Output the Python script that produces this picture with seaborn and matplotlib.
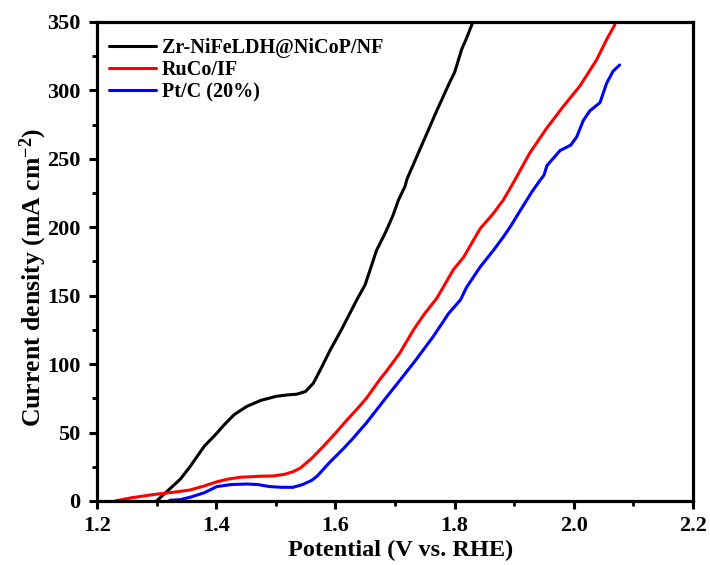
import numpy as np
import pandas as pd
import matplotlib
matplotlib.use("Agg")
import matplotlib.pyplot as plt
import seaborn as sns
from matplotlib.ticker import MultipleLocator

# ---- data ----
labels = ["Zr-NiFeLDH@NiCoP/NF", "RuCo/IF", "Pt/C (20%)"]
colors = ["#000000", "#ff0000", "#0000ff"]

black_v = [1.300, 1.320, 1.340, 1.356, 1.380, 1.400, 1.412, 1.430, 1.451, 1.475, 1.501,
           1.520, 1.535, 1.550, 1.563, 1.575, 1.591, 1.610, 1.636, 1.650, 1.669, 1.685,
           1.697, 1.706, 1.717, 1.720, 1.735, 1.753, 1.770, 1.792, 1.800, 1.812, 1.820,
           1.830, 1.840]
black_j = [0, 8, 16, 25, 40, 49, 55, 63, 69, 73.5, 76.5,
           77.5, 78, 80, 86, 96, 110, 125, 147, 158, 183, 197,
           209, 220, 230, 235, 250, 268, 285, 306, 313, 330, 338,
           349, 358]

red_v = [1.230, 1.260, 1.300, 1.330, 1.356, 1.380, 1.401, 1.420, 1.440, 1.470, 1.496,
         1.515, 1.529, 1.541, 1.560, 1.580, 1.597, 1.615, 1.636, 1.652, 1.675, 1.686,
         1.708, 1.731, 1.750, 1.770, 1.798, 1.815, 1.843, 1.865, 1.882, 1.898, 1.926,
         1.954, 1.982, 2.010, 2.038, 2.055, 2.069]
red_j = [0, 2.5, 5, 6.5, 8, 11, 14, 16, 17.3, 18, 18.3,
         19.5, 21.4, 24, 31, 40, 48, 57, 67, 75, 89, 95,
         108, 125, 137, 148, 169, 178, 199, 210, 220, 232, 254,
         272, 288, 303, 322, 337, 348]

blue_v = [1.322, 1.340, 1.356, 1.380, 1.401, 1.425, 1.451, 1.470, 1.490, 1.510, 1.529,
          1.545, 1.560, 1.569, 1.590, 1.613, 1.630, 1.652, 1.686, 1.708, 1.735, 1.764,
          1.790, 1.810, 1.820, 1.843, 1.865, 1.882, 1.893, 1.910, 1.930, 1.943, 1.950,
          1.955, 1.977, 1.995, 2.005, 2.016, 2.027, 2.044, 2.055, 2.066, 2.077]
blue_j = [0.5, 1, 2.7, 6, 10.5, 12, 12.4, 12, 10.5, 10, 10,
          12, 15, 18, 28, 38, 46, 57, 76, 88, 103, 120,
          137, 147, 156, 171, 183, 193, 200, 212, 226, 234, 238,
          245, 256, 260, 266, 278, 285, 291, 305, 314, 318.5]

df = pd.concat([
    pd.DataFrame({"V": black_v, "J": black_j, "s": labels[0]}),
    pd.DataFrame({"V": red_v, "J": red_j, "s": labels[1]}),
    pd.DataFrame({"V": blue_v, "J": blue_j, "s": labels[2]}),
], ignore_index=True)

sns.set_style("ticks", {"axes.edgecolor": "black", "text.color": "black",
                        "xtick.color": "black", "ytick.color": "black",
                        "axes.labelcolor": "black"})
plt.rcParams["font.family"] = ["Liberation Serif", "DejaVu Serif"]
plt.rcParams["font.weight"] = "bold"
plt.rcParams["mathtext.fontset"] = "custom"
plt.rcParams["mathtext.rm"] = "Liberation Serif:bold"
plt.rcParams["mathtext.bf"] = "Liberation Serif:bold"
plt.rcParams["mathtext.default"] = "bf"

fig = plt.figure(figsize=(7.1, 5.65), dpi=100)
ax = fig.add_axes([0.1366, 0.1133, 0.8394, 0.848])

sns.lineplot(data=df, x="V", y="J", hue="s", palette=dict(zip(labels, colors)),
             sort=False, estimator=None, linewidth=2.2, ax=ax)

ax.set_xlim(1.2, 2.2)
ax.set_ylim(0, 350)
ax.xaxis.set_major_locator(MultipleLocator(0.2))
ax.xaxis.set_minor_locator(MultipleLocator(0.1))
ax.yaxis.set_major_locator(MultipleLocator(50))
ax.yaxis.set_minor_locator(MultipleLocator(25))
ax.xaxis.set_major_formatter(matplotlib.ticker.FormatStrFormatter("%.1f"))

for sp in ax.spines.values():
    sp.set_linewidth(2.3)
    sp.set_color("black")
    sp.set_visible(True)
ax.tick_params(which="major", direction="out", length=6, width=2.2, labelsize=16,
               top=False, right=False, colors="black")
ax.tick_params(axis="x", which="major", pad=5)
ax.tick_params(axis="y", which="major", pad=6)
ax.tick_params(which="minor", direction="out", length=3.5, width=2.0, top=False, right=False,
               colors="black")
for lab in ax.get_xticklabels() + ax.get_yticklabels():
    lab.set_fontweight("bold")

ax.set_xlabel("Potential (V vs. RHE)", fontsize=17.5, fontweight="bold", color="black")
ax.set_ylabel("Current density (mA cm$^{-2}$)", fontsize=18.5, fontweight="bold", color="black")
ax.xaxis.set_label_coords(0.51, -0.081)
ax.yaxis.set_label_coords(-0.080, 0.466)

leg = ax.legend(loc="upper left", frameon=False, fontsize=14.5, handlelength=2.3,
                handletextpad=0.3, labelspacing=0.1, borderaxespad=0.3,
                bbox_to_anchor=(-0.003, 0.995))
for t in leg.get_texts():
    t.set_fontweight("bold")
    t.set_color("black")
for l in leg.get_lines():
    l.set_linewidth(2.2)

fig.savefig("out.png", dpi=100)
